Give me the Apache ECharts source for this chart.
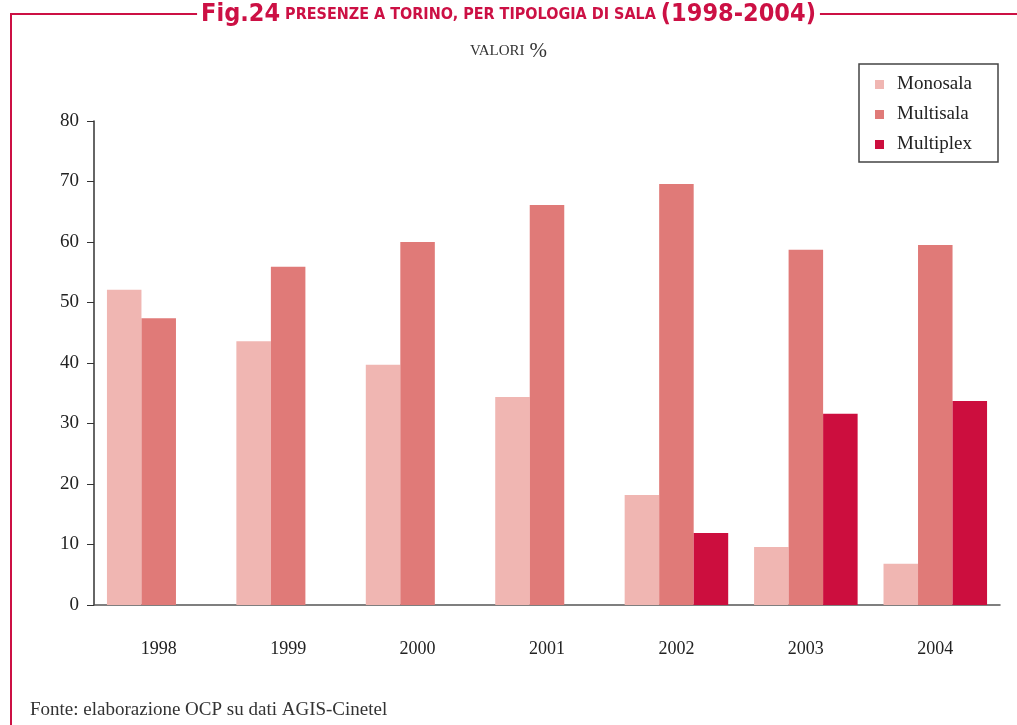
<!DOCTYPE html>
<html>
<head>
<meta charset="utf-8">
<script src="https://cdn.jsdelivr.net/npm/echarts@6/dist/echarts.min.js"></script>
<style>
  html, body { margin: 0; padding: 0; background: #fff; }
  #chart { width: 1017px; height: 725px; }
</style>
</head>
<body>
<div id="chart"></div>
<script>
// anni e valori % per tipologia di sala
const years = ['1998', '1999', '2000', '2001', '2002', '2003', '2004'];
const monosala = [52.1, 43.6, 39.7, 34.4, 18.2, 9.6, 6.8];
const multisala = [47.4, 55.9, 60.0, 66.1, 69.6, 58.7, 59.5];
const multiplex = [null, null, null, null, 11.9, 31.6, 33.7];
const yTicks = [0, 10, 20, 30, 40, 50, 60, 70, 80];

const serif = '"Liberation Serif", "DejaVu Serif", serif';
const cond = '"DejaVu Sans Condensed", "Liberation Sans Narrow", sans-serif';
const red = '#cc1044';

const myChart = echarts.init(document.getElementById('chart'));

let option = {
  animation: false,
  title: [
    {
      text: '{a|Fig.24} {b|PRESENZE A TORINO, PER TIPOLOGIA DI SALA} {a|(1998-2004)}',
      left: 'center',
      top: 0,
      padding: [2, 4, 2, 4],
      backgroundColor: '#fff',
      textStyle: {
        rich: {
          a: { fontFamily: cond, fontWeight: 'bold', fontSize: 25, color: red },
          b: { fontFamily: cond, fontWeight: 'bold', fontSize: 16, color: red }
        }
      }
    },
    {
      text: '{s|VALORI} {p|%}',
      left: 'center',
      top: 36,
      textStyle: {
        fontWeight: 'normal',
        rich: {
          s: { fontFamily: serif, fontSize: 15, fontWeight: 'normal', color: '#333' },
          p: { fontFamily: serif, fontSize: 21, fontWeight: 'normal', color: '#333' }
        }
      }
    },
    {
      text: 'Fonte: elaborazione OCP su dati AGIS-Cinetel',
      left: 25,
      top: 696,
      textStyle: { fontFamily: serif, fontSize: 19, fontWeight: 'normal', color: '#333' }
    }
  ],
  graphic: [
    // cornice rossa
    { type: 'line', z: -1, shape: { x1: 11, y1: 14, x2: 1017, y2: 14 }, style: { stroke: red, lineWidth: 2 } },
    { type: 'line', z: -1, shape: { x1: 11, y1: 13, x2: 11, y2: 725 }, style: { stroke: red, lineWidth: 2 } },
    // riquadro legenda
    { type: 'rect', shape: { x: 859, y: 64, width: 139, height: 98 }, style: { fill: 'none', stroke: '#444', lineWidth: 1.5 } }
  ],
  legend: {
    orient: 'vertical',
    left: 870,
    top: 70,
    itemWidth: 9,
    itemHeight: 9,
    itemGap: 11,
    icon: 'rect',
    textStyle: { fontFamily: serif, fontSize: 19, color: '#222', padding: [0, 0, 0, 8] }
  },
  grid: {
    left: 94,
    right: 17,
    top: 121,
    bottom: 120
  },
  xAxis: {
    type: 'category',
    data: years,
    axisLine: { lineStyle: { color: '#555', width: 1.5 } },
    axisTick: { length: 8, lineStyle: { color: '#333' } },
    axisLabel: { fontFamily: serif, fontSize: 18, color: '#222', margin: 35 }
  },
  yAxis: {
    type: 'value',
    min: yTicks[0],
    max: yTicks[yTicks.length - 1],
    interval: 10,
    axisLine: { show: true, lineStyle: { color: '#333', width: 1.5 } },
    axisTick: { show: true, length: 7, lineStyle: { color: '#333' } },
    splitLine: { show: false },
    axisLabel: { fontFamily: serif, fontSize: 19, color: '#222', margin: 15 }
  },
  series: [
    { name: 'Monosala', type: 'bar', data: monosala, barGap: '0%', barCategoryGap: '20%', itemStyle: { color: '#f0b6b2' } },
    { name: 'Multisala', type: 'bar', data: multisala, barGap: '0%', barCategoryGap: '20%', itemStyle: { color: '#e07a78' } },
    { name: 'Multiplex', type: 'bar', data: multiplex, barGap: '0%', barCategoryGap: '20%', itemStyle: { color: '#cc0e3e' } }
  ]
};

myChart.setOption(option);
</script>
</body>
</html>
